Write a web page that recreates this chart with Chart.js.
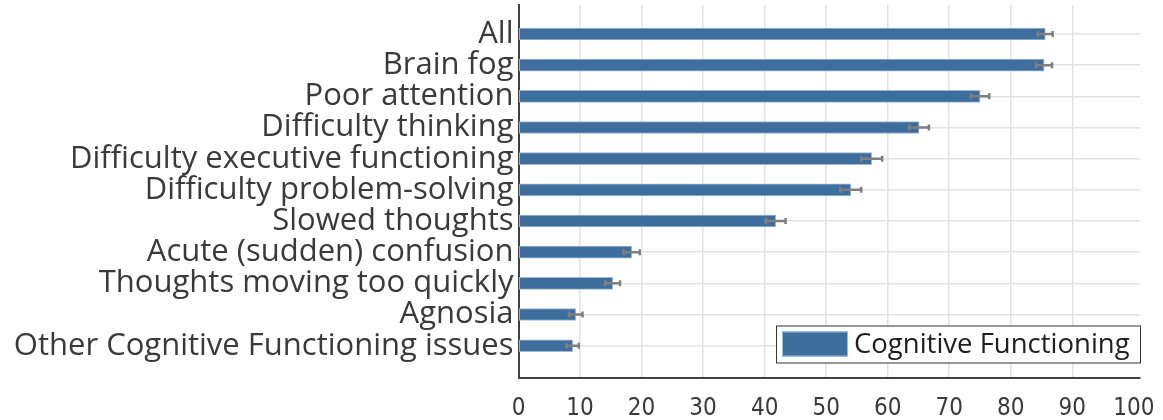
<!DOCTYPE html>
<html>
<head>
<meta charset="utf-8">
<script src="https://cdn.jsdelivr.net/npm/chart.js@4"></script>
<style>
  html, body { margin: 0; padding: 0; background: #fff; }
</style>
</head>
<body>
<canvas id="cog_chart" width="1163" height="420"></canvas>
<script>
const categories = [
  "All",
  "Brain fog",
  "Poor attention",
  "Difficulty thinking",
  "Difficulty executive functioning",
  "Difficulty problem-solving",
  "Slowed thoughts",
  "Acute (sudden) confusion",
  "Thoughts moving too quickly",
  "Agnosia",
  "Other Cognitive Functioning issues",
];
const values = [85.6, 85.4, 75.0, 65.1, 57.4, 54.0, 41.8, 18.4, 15.3, 9.3, 8.8];
const errors = [1.2, 1.3, 1.5, 1.6, 1.7, 1.7, 1.6, 1.3, 1.2, 1.1, 1.0];
const xTicks = [0, 10, 20, 30, 40, 50, 60, 70, 80, 90, 100];
const seriesName = "Cognitive Functioning";

const labelFont = "'Open Sans', 'DejaVu Sans', sans-serif";
const tickFont = "'Liberation Sans Narrow', 'DejaVu Sans Condensed', sans-serif";

// error bars drawn on top of bars
const errorBars = {
  id: "errorBars",
  afterDatasetsDraw(chart) {
    const ctx = chart.ctx;
    const xs = chart.scales.x;
    const meta = chart.getDatasetMeta(0);
    ctx.save();
    ctx.strokeStyle = "#7f7f7f";
    ctx.lineWidth = 2.5;
    meta.data.forEach((bar, i) => {
      const x1 = xs.getPixelForValue(values[i] - errors[i]);
      const x2 = xs.getPixelForValue(values[i] + errors[i]);
      const y = bar.y;
      ctx.beginPath();
      ctx.moveTo(x1, y);
      ctx.lineTo(x2, y);
      ctx.moveTo(x1, y - 3);
      ctx.lineTo(x1, y + 3);
      ctx.moveTo(x2, y - 3);
      ctx.lineTo(x2, y + 3);
      ctx.stroke();
    });
    ctx.restore();
  },
};

// boxed legend in the lower right of the plot
const boxLegend = {
  id: "boxLegend",
  afterDraw(chart) {
    const ctx = chart.ctx;
    const area = chart.chartArea;
    const ds = chart.data.datasets[0];
    const w = 364, h = 37;
    const left = area.right - w;
    const top = area.bottom - 52;
    ctx.save();
    ctx.fillStyle = "#fff";
    ctx.fillRect(left, top, w, h);
    ctx.strokeStyle = "#333";
    ctx.lineWidth = 1;
    ctx.strokeRect(left + 0.5, top + 0.5, w, h);
    ctx.fillStyle = ds.backgroundColor;
    ctx.fillRect(left + 6, top + 6, 66, 25);
    ctx.strokeStyle = ds.borderColor;
    ctx.strokeRect(left + 6.5, top + 6.5, 65, 24);
    ctx.fillStyle = "#1e1e1e";
    ctx.font = "27.5px " + labelFont;
    ctx.textBaseline = "middle";
    ctx.fillText(ds.label, left + 78, top + h / 2 + 1);
    ctx.restore();
  },
};

new Chart(document.getElementById("cog_chart"), {
  type: "bar",
  data: {
    datasets: [
      {
        label: seriesName,
        data: values.map((v, i) => ({ x: v, y: i })),
        backgroundColor: "#3d6e9d",
        borderColor: "#9fb9d2",
        borderWidth: 1,
        borderSkipped: false,
        barThickness: 12,
      },
    ],
  },
  options: {
    indexAxis: "y",
    responsive: false,
    animation: false,
    layout: {
      padding: { top: 5, right: 23, left: 0, bottom: 0 },
    },
    plugins: {
      legend: { display: false },
      tooltip: { enabled: false },
    },
    scales: {
      x: {
        type: "linear",
        min: 0,
        max: 101,
        afterBuildTicks: (scale) => {
          scale.ticks = xTicks.map((v) => ({ value: v }));
        },
        afterFit: (scale) => {
          scale.height = 42.5;
          scale.paddingLeft = 0;
          scale.paddingRight = 0;
        },
        grid: {
          drawTicks: false,
          lineWidth: 1.5,
          color: (c) => (c.tick && (c.tick.value === 100 || c.tick.value === 0) ? "rgba(0,0,0,0)" : "#e2e2e2"),
        },
        border: { color: "#404040", width: 2 },
        ticks: {
          padding: 17,
          color: "#3a3a3a",
          font: { family: tickFont, size: 24 },
        },
      },
      y: {
        type: "linear",
        reverse: true,
        offset: false,
        min: -0.93,
        max: 11.02,
        afterBuildTicks: (scale) => {
          scale.ticks = categories.map((c, i) => ({ value: i }));
        },
        afterFit: (scale) => {
          scale.width = 518.5;
          scale.paddingTop = 0;
          scale.paddingBottom = 0;
        },
        grid: {
          offset: false,
          drawTicks: false,
          lineWidth: 1.5,
          color: "#e2e2e2",
        },
        border: { color: "#404040", width: 2 },
        ticks: {
          autoSkip: false,
          padding: 5,
          color: "#3a3a3a",
          font: { family: labelFont, size: 31 },
          callback: (v) => categories[v],
        },
      },
    },
  },
  plugins: [errorBars, boxLegend],
});
</script>
</body>
</html>
